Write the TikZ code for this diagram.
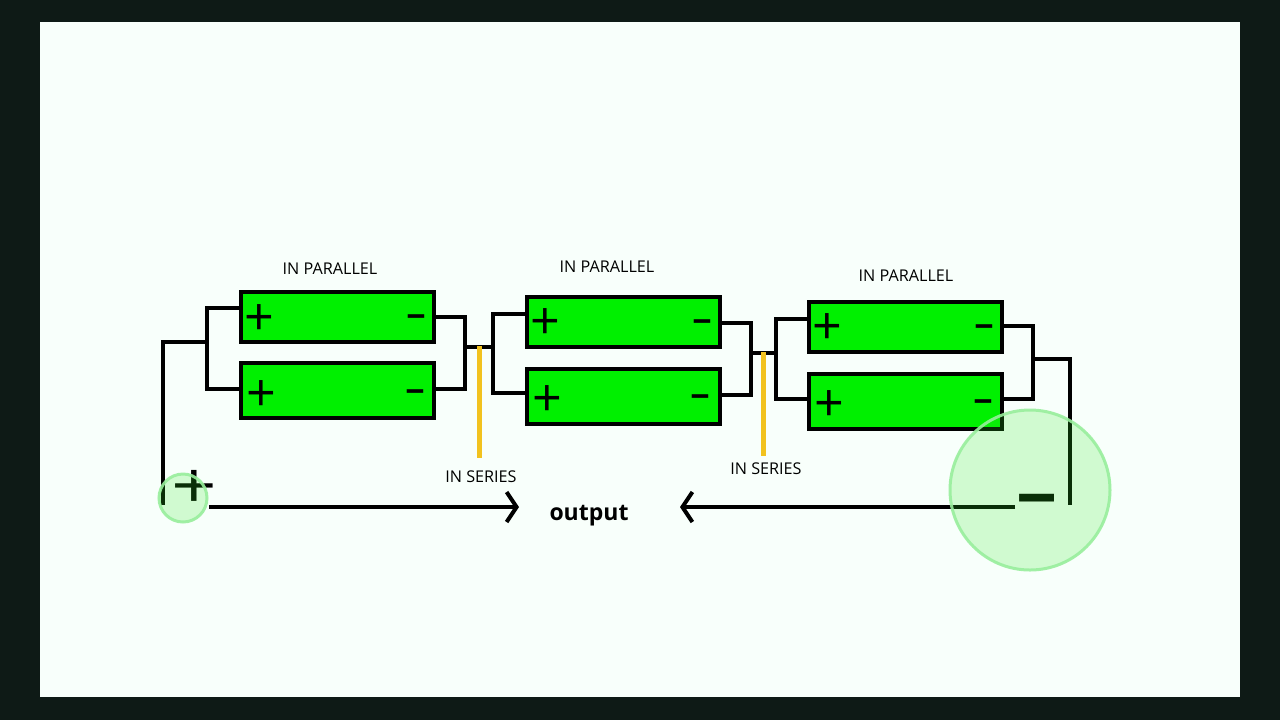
\documentclass[tikz,border=0pt]{standalone}
\usepackage{fontspec}
\setmainfont{Open Sans}
\usetikzlibrary{arrows.meta}
\definecolor{frameC}{HTML}{0E1A16}
\definecolor{panelC}{HTML}{F8FFFB}
\definecolor{cellC}{HTML}{00F000}
\definecolor{seriesC}{HTML}{F2C21E}
\definecolor{glowC}{HTML}{30E624}
\definecolor{glowE}{HTML}{98EE9C}
\tikzset{
  x=0.5pt,y=-0.5pt,
  cell/.style={draw=black,fill=cellC,line width=2pt,minimum width=96.5pt,inner sep=0pt,outer sep=0pt},
  cellS/.style={cell,minimum height=25pt},
  cellT/.style={cell,minimum height=27.5pt},
  wire/.style={draw=black,line width=1.8pt,line cap=butt,line join=miter},
  lead/.style={draw=black,line width=1.9pt,-{Straight Barb[length=5pt,width=15pt,line width=2pt]}},
  seriesbar/.style={draw=seriesC,line width=2.5pt},
  lbl/.style={font=\fontsize{8.1pt}{9pt}\selectfont,text=black,inner sep=0pt},
  sgn/.style={font=\fontsize{26pt}{26pt}\selectfont,text=black,inner sep=0pt},
  neg/.style={font=\fontsize{17pt}{17pt}\selectfont\bfseries,text=black,inner sep=0pt},
  glow/.style={draw=glowE,fill=glowC,line width=1.5pt,fill opacity=.2,draw opacity=.9},
}
\begin{document}
\begin{tikzpicture}
\useasboundingbox (0,0) rectangle (1280,720);
\fill[frameC] (0,0) rectangle (1280,720);
\fill[panelC] (40,22) rectangle (1240,697);
% cells
\node[cellS] (A1) at (337.5,317) {};
\node[cellT] (A2) at (337.5,390.5) {};
\node[cellS] (B1) at (623.5,322) {};
\node[cellT] (B2) at (623.5,396.5) {};
\node[cellS] (C1) at (905.5,327) {};
\node[cellT] (C2) at (905.5,401.5) {};
% signs
\foreach \n/\x/\y in {pa/259/320,pb/261/396,pc/545/324,pd/547/401,pe/827/329,pf/829/406}
  \node[sgn] (\n) at (\x,\y) {+};
\foreach \n/\x/\y in {ma/416/322,mb/415/397,mc/702/327,md/700/402,me/984/332,mf/983/407}
  \node[neg] (\n) at (\x,\y) {−};
% junction coordinates
\coordinate (L0) at (163,505);
\coordinate (L1) at (163,342);
\coordinate (J1) at (207,342);
\coordinate (J1t) at (207,308);
\coordinate (J1b) at (207,389);
\coordinate (J2) at (465,347);
\coordinate (J2t) at (465,317);
\coordinate (J2b) at (465,389);
\coordinate (J3) at (493,347);
\coordinate (J3t) at (493,314);
\coordinate (J3b) at (493,393);
\coordinate (J4) at (751,353);
\coordinate (J4t) at (751,323);
\coordinate (J4b) at (751,395);
\coordinate (J5) at (776,353);
\coordinate (J5t) at (776,319);
\coordinate (J5b) at (776,399);
\coordinate (J6) at (1033,359);
\coordinate (J6t) at (1033,326);
\coordinate (J6b) at (1033,399);
\coordinate (R1) at (1070,359);
\coordinate (R0) at (1070,505);
% wiring
\draw[wire] (L0) -- (L1) -- (J1);
\draw[wire] (A1.west |- J1t) -- (J1t) -- (J1b) -- (A2.west |- J1b);
\draw[wire] (A1.east |- J2t) -- (J2t) -- (J2b) -- (A2.east |- J2b);
\draw[wire] (J2) -- (J3);
\draw[wire] (B1.west |- J3t) -- (J3t) -- (J3b) -- (B2.west |- J3b);
\draw[wire] (B1.east |- J4t) -- (J4t) -- (J4b) -- (B2.east |- J4b);
\draw[wire] (J4) -- (J5);
\draw[wire] (C1.west |- J5t) -- (J5t) -- (J5b) -- (C2.west |- J5b);
\draw[wire] (C1.east |- J6t) -- (J6t) -- (J6b) -- (C2.east |- J6b);
\draw[wire] (J6) -- (R1) -- (R0);
% series markers
\coordinate (S1a) at (479,346);
\coordinate (S1b) at (479,458);
\coordinate (S2a) at (763,352);
\coordinate (S2b) at (763,456);
\draw[seriesbar] (S1a) -- (S1b);
\draw[seriesbar] (S2a) -- (S2b);
% labels
\node[lbl] (t1) at (330,269) {IN PARALLEL};
\node[lbl] (t2) at (607,267) {IN PARALLEL};
\node[lbl] (t3) at (906,276) {IN PARALLEL};
\node[lbl] (t4) at (481,477) {IN SERIES};
\node[lbl] (t5) at (766,469) {IN SERIES};
\node[font=\fontsize{11.5pt}{13pt}\selectfont\bfseries,inner sep=0pt,text=black] (out) at (589,516) {output};
% output leads
\coordinate (Pm) at (209,507);
\coordinate (Qm) at (1015,507);
\coordinate (Pt) at (519,507);
\coordinate (Qt) at (680,507);
\draw[lead] (Pm) -- (Pt);
\draw[lead] (Qm) -- (Qt);
% terminals
\node[font=\fontsize{40pt}{40pt}\selectfont,inner sep=0pt,yscale=.8,text=black] (tp) at (194,489) {+};
\node[font=\fontsize{36pt}{36pt}\selectfont\bfseries,inner sep=0pt,text=black] (tm) at (1037,509) {−};
% highlights
\path[glow] (183,498) circle (24);
\path[glow] (1030,490) circle (80);
\end{tikzpicture}
\end{document}
